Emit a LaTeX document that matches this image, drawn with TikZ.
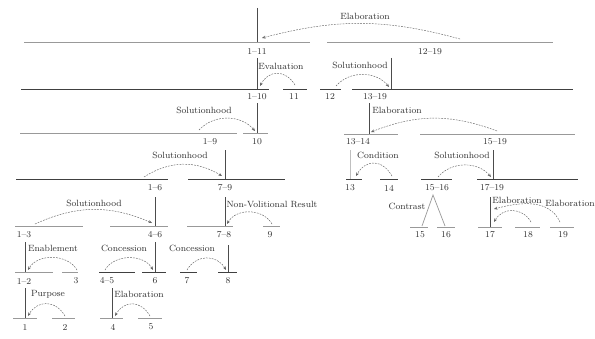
\documentclass[tikz,border=0pt]{standalone}
\usetikzlibrary{arrows.meta}

\begin{document}
\begin{tikzpicture}[x=0.03cm, y=-0.03cm,
        every node/.style={font=\fontsize{7.7}{9}\selectfont, inner sep=1pt, text=black!80},
        seg/.style={draw=black!40, line width=0.6pt},
        segd/.style={draw=black!75, line width=0.6pt},
        nuc/.style={draw=black!70, line width=0.7pt},
        rel/.style={draw=black!60, dash pattern=on 1.5pt off 1pt, line width=0.4pt,
            -{Stealth[length=3pt, width=2.5pt]}}]
        \useasboundingbox[fill=white] (0,0) rectangle (595,338);
        % level 0
        \draw[seg] (24,42) -- (310,42);
        \draw[seg] (327,42) -- (553,42);
        \draw[nuc] (257,8) -- (257,42);
        \node (n1-11) at (257,52) {1--11};
        \node (n12-19) at (430,52) {12--19};
        \coordinate (e1a) at (460,39);
        \coordinate (e1b) at (262,38);
        \draw[rel] (e1a) to[bend right=15] (e1b);
        \node (r-elab1) at (365,16) {Elaboration};
        % level 1
        \draw[segd] (21,89) -- (269,89);
        \draw[segd] (283,89) -- (307,89);
        \draw[segd] (320,89) -- (341,89);
        \draw[segd] (352,89) -- (573,89);
        \draw[nuc] (257,58) -- (257,89);
        \draw[nuc] (391,58) -- (391,89);
        \node (n1-10) at (257,97) {1--10};
        \node (n11) at (294,97) {11};
        \node (n12) at (330,97) {12};
        \node (n13-19) at (375,97) {13--19};
        \coordinate (e2a) at (295,85);
        \coordinate (e2b) at (260,86);
        \draw[rel] (e2a) to[bend right=60, looseness=1.35] (e2b);
        \node (r-eval) at (281,66) {Evaluation};
        \coordinate (e3a) at (336,86);
        \coordinate (e3b) at (389,87);
        \draw[rel] (e3a) to[bend left=50] (e3b);
        \node (r-sol1) at (360,65) {Solutionhood};
        % level 2
        \draw[seg] (20,133) -- (237,133);
        \draw[seg] (243,133) -- (268,133);
        \draw[seg] (344,134) -- (398,134);
        \draw[seg] (420,134) -- (575,134);
        \draw[nuc] (257,103) -- (257,133);
        \draw[nuc] (369,103) -- (369,134);
        \node (n1-9) at (210,142) {1--9};
        \node (n10) at (257,142) {10};
        \node (n13-14) at (358,142) {13--14};
        \node (n15-19) at (495,142) {15--19};
        \coordinate (e4a) at (199,130);
        \coordinate (e4b) at (255,131);
        \draw[rel] (e4a) to[bend left=48] (e4b);
        \node (r-sol2) at (204,110) {Solutionhood};
        \coordinate (e5a) at (497,131);
        \coordinate (e5b) at (371,132);
        \draw[rel] (e5a) to[bend right=21] (e5b);
        \node (r-elab2) at (397,110) {Elaboration};
        % level 3
        \draw[segd] (16,179) -- (168,179);
        \draw[segd] (188,179) -- (285,179);
        \draw[segd] (346,179) -- (362,179);
        \draw[segd] (380,179) -- (398,179);
        \draw[segd] (421,179) -- (452,179);
        \draw[segd] (477,179) -- (578,179);
        \draw[nuc] (225,150) -- (225,179);
        \draw[nuc, draw=black!25] (350,150) -- (350,179);
        \draw[nuc] (493,150) -- (493,179);
        \node (n1-6) at (155,188) {1--6};
        \node (n7-9) at (225,188) {7--9};
        \node (n13) at (350,188) {13};
        \node (n14) at (389,188) {14};
        \node (n15-16) at (437,188) {15--16};
        \node (n17-19) at (492,188) {17--19};
        \coordinate (e6a) at (144,177);
        \coordinate (e6b) at (222,176);
        \draw[rel] (e6a) to[bend left=32] (e6b);
        \node (r-sol3) at (180,155) {Solutionhood};
        \coordinate (e7a) at (392,176);
        \coordinate (e7b) at (356,176);
        \draw[rel] (e7a) to[bend right=60, looseness=1.4] (e7b);
        \node (r-cond) at (378,155) {Condition};
        \coordinate (e8a) at (438,177);
        \coordinate (e8b) at (491,177);
        \draw[rel] (e8a) to[bend left=50] (e8b);
        \node (r-sol4) at (462,155) {Solutionhood};
        % level 4
        \draw[seg] (15,226) -- (83,226);
        \draw[seg] (110,226) -- (168,226);
        \draw[seg] (187,226) -- (233,226);
        \draw[seg] (263,226) -- (280,226);
        \draw[seg] (410,227) -- (428,227);
        \draw[seg] (437,227) -- (455,227);
        \draw[seg] (478,227) -- (502,227);
        \draw[seg] (515,227) -- (540,227);
        \draw[seg] (550,227) -- (574,227);
        \draw[nuc] (155,197) -- (155,226);
        \draw[nuc] (225,197) -- (225,226);
        \draw[nuc] (490,197) -- (490,227);
        \coordinate (top15-16) at (433,195);
        \coordinate (leg15) at (422,226);
        \coordinate (leg16) at (445,226);
        \draw[seg] (leg15) -- (top15-16) -- (leg16);
        \node (r-contr) at (407,206) {Contrast};
        \node (n1-3) at (24,235) {1--3};
        \node (n4-6) at (155,235) {4--6};
        \node (n7-8) at (224,235) {7--8};
        \node (n9) at (270,235) {9};
        \node (n15) at (420,235) {15};
        \node (n16) at (446,235) {16};
        \node (n17) at (490,235) {17};
        \node (n18) at (528,235) {18};
        \node (n19) at (563,235) {19};
        \coordinate (e9a) at (35,224);
        \coordinate (e9b) at (152,223);
        \draw[rel] (e9a) to[bend left=24] (e9b);
        \node (r-sol5) at (94,203) {Solutionhood};
        \coordinate (e10a) at (272,224);
        \coordinate (e10b) at (227,224);
        \draw[rel] (e10a) to[bend right=60, looseness=1.05] (e10b);
        \node (r-nvr) at (272,204) {Non-Volitional Result};
        \coordinate (e11a) at (531,222);
        \coordinate (e11b) at (494,222);
        \draw[rel] (e11a) to[bend right=60, looseness=1.2] (e11b);
        \node (r-elab3) at (517,200) {Elaboration};
        \coordinate (e12a) at (560,222);
        \coordinate (e12b) at (494,209);
        \draw[rel] (e12a) to[out=115, in=15] (e12b);
        \node (r-elab4) at (570,203) {Elaboration};
        % level 5
        \draw[seg] (15,272) -- (53,272);
        \draw[seg] (62,272) -- (78,272);
        \draw[segd] (99,272) -- (135,272);
        \draw[segd] (142,272) -- (166,272);
        \draw[segd] (180,272) -- (197,272);
        \draw[segd] (218,272) -- (237,272);
        \draw[nuc] (25,242) -- (25,272);
        \draw[nuc] (155,242) -- (155,272);
        \draw[nuc] (228,245) -- (228,272);
        \node (n1-2) at (24,281) {1--2};
        \node (n3) at (76,281) {3};
        \node (n4-5) at (107,281) {4--5};
        \node (n6) at (155,281) {6};
        \node (n7) at (187,281) {7};
        \node (n8) at (228,281) {8};
        \coordinate (e13a) at (77,270);
        \coordinate (e13b) at (28,270);
        \draw[rel] (e13a) to[bend right=60] (e13b);
        \node (r-enab) at (53,248) {Enablement};
        \coordinate (e14a) at (105,270);
        \coordinate (e14b) at (153,270);
        \draw[rel] (e14a) to[bend left=60] (e14b);
        \node (r-conc1) at (124,248) {Concession};
        \coordinate (e15a) at (187,270);
        \coordinate (e15b) at (226,270);
        \draw[rel] (e15a) to[bend left=60, looseness=1.2] (e15b);
        \node (r-conc2) at (192,248) {Concession};
        % level 6
        \draw[seg] (13,318) -- (37,318);
        \draw[seg] (52,318) -- (75,318);
        \draw[seg] (100,318) -- (123,318);
        \draw[seg] (138,318) -- (162,318);
        \draw[nuc] (25,288) -- (25,318);
        \draw[nuc] (112,288) -- (112,318);
        \node (n1) at (25,327) {1};
        \node (n2) at (65,327) {2};
        \node (n4) at (113,327) {4};
        \node (n5) at (151,327) {5};
        \coordinate (e16a) at (65,316);
        \coordinate (e16b) at (28,316);
        \draw[rel] (e16a) to[bend right=60, looseness=1.3] (e16b);
        \node (r-purp) at (48,294) {Purpose};
        \coordinate (e17a) at (150,316);
        \coordinate (e17b) at (115,316);
        \draw[rel] (e17a) to[bend right=60, looseness=1.35] (e17b);
        \node (r-elab5) at (139,294) {Elaboration};
    \end{tikzpicture}
\end{document}
